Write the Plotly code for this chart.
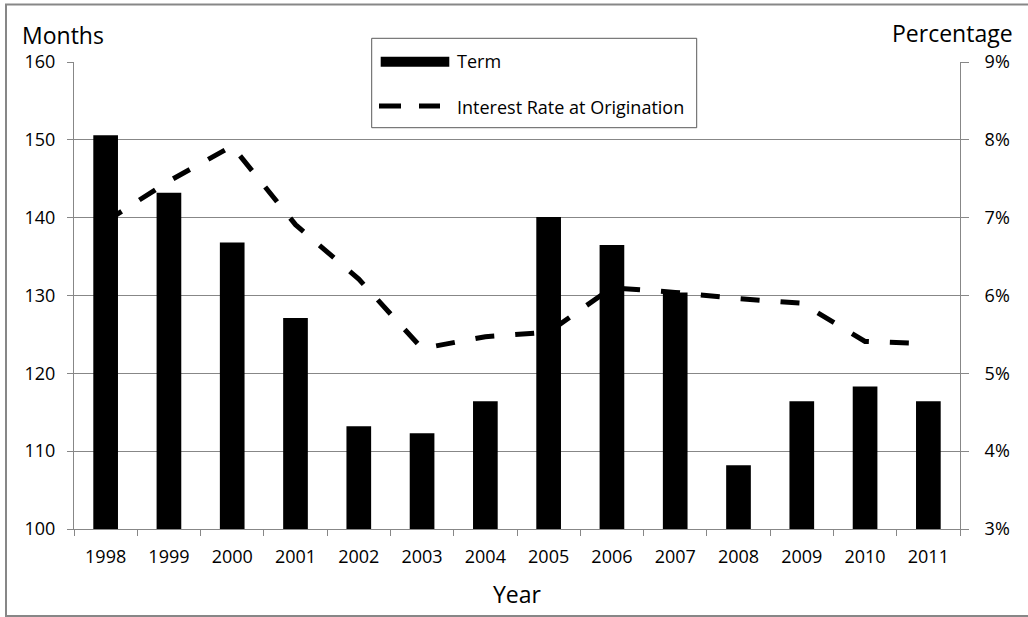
import plotly.graph_objects as go

# ---- data ----
years = ["1998", "1999", "2000", "2001", "2002", "2003", "2004",
         "2005", "2006", "2007", "2008", "2009", "2010", "2011"]
term_months = [150.6, 143.2, 136.8, 127.1, 113.2, 112.3, 116.4,
               140.1, 136.5, 130.4, 108.2, 116.4, 118.3, 116.4]
rate_pct = [6.95, 7.47, 7.92, 6.91, 6.21, 5.32, 5.47,
            5.53, 6.10, 6.04, 5.96, 5.90, 5.41, 5.38]
month_ticks = [100, 110, 120, 130, 140, 150, 160]
pct_ticks = [3, 4, 5, 6, 7, 8, 9]

# ---- geometry ----
W, H = 1028, 617
ML, MR, MT, MB = 74, 68, 62, 88
PW, PH = W - ML - MR, H - MT - MB


def fx(px):
    return (px - ML) / PW


def fy(py):
    return (H - MB - py) / PH


GRID = "#878787"
FONT = "Open Sans"

fig = go.Figure()

fig.add_trace(go.Bar(
    x=years, y=term_months, name="Term",
    marker=dict(color="black", line=dict(width=0)),
    yaxis="y", showlegend=False,
))

fig.add_trace(go.Scatter(
    x=years, y=[v / 100 for v in rate_pct], name="Interest Rate at Origination",
    mode="lines", line=dict(color="black", width=5, dash="19px,21px"),
    yaxis="y2", showlegend=False,
))

shapes = [
    # outer chart frame
    dict(type="rect", xref="paper", yref="paper",
         x0=fx(6), x1=fx(1040), y0=fy(616), y1=fy(4.5),
         line=dict(color=GRID, width=2), fillcolor="rgba(0,0,0,0)", layer="above"),
    # legend box
    dict(type="rect", xref="paper", yref="paper",
         x0=fx(371.7), x1=fx(696.7), y0=fy(127.7), y1=fy(38.3),
         line=dict(color="#5a5a5a", width=1), fillcolor="white", layer="above"),
    # legend swatch: bar
    dict(type="rect", xref="paper", yref="paper",
         x0=fx(380.7), x1=fx(449.3), y0=fy(66.7), y1=fy(56.7),
         line=dict(width=0), fillcolor="black", layer="above"),
    # legend swatch: dashed line
    dict(type="line", xref="paper", yref="paper",
         x0=fx(379), x1=fx(440), y0=fy(106), y1=fy(106),
         line=dict(color="black", width=5, dash="22px,18px"), layer="above"),
]

annotations = [
    dict(text="Months", xref="paper", yref="paper", x=fx(20), y=fy(34.5),
         xanchor="left", yanchor="middle", showarrow=False,
         font=dict(family=FONT, size=23, color="black")),
    dict(text="Percentage", xref="paper", yref="paper", x=fx(1015), y=fy(33.5),
         xanchor="right", yanchor="middle", showarrow=False,
         font=dict(family=FONT, size=23, color="black")),
    dict(text="Term", xref="paper", yref="paper", x=fx(455), y=fy(61),
         xanchor="left", yanchor="middle", showarrow=False,
         font=dict(family=FONT, size=18, color="black")),
    dict(text="Interest Rate at Origination", xref="paper", yref="paper",
         x=fx(455), y=fy(106.5), xanchor="left", yanchor="middle", showarrow=False,
         font=dict(family=FONT, size=18, color="black")),
]

fig.update_layout(
    width=W, height=H,
    margin=dict(l=ML, r=MR, t=MT, b=MB, pad=0),
    paper_bgcolor="white", plot_bgcolor="white",
    font=dict(family=FONT, size=18, color="black"),
    bargap=0.61,
    xaxis=dict(
        type="category", categoryorder="array", categoryarray=years,
        showline=True, linecolor=GRID, linewidth=1,
        ticks="outside", tickson="boundaries", ticklen=6, tickcolor=GRID,
        showgrid=False, ticklabelstandoff=11,
        title=dict(text="Year", font=dict(family=FONT, size=23, color="black"),
                   standoff=20),
    ),
    yaxis=dict(
        range=[100, 160], tickvals=month_ticks,
        showline=True, linecolor=GRID, linewidth=1,
        showgrid=True, gridcolor=GRID, gridwidth=1,
        ticks="outside", ticklen=6, tickcolor=GRID,
        ticklabelstandoff=8, zeroline=False,
    ),
    yaxis2=dict(
        overlaying="y", side="right", range=[0.03, 0.09],
        tickvals=[p / 100 for p in pct_ticks],
        ticktext=[f"{p}%" for p in pct_ticks],
        showline=True, linecolor=GRID, linewidth=1,
        showgrid=False, zeroline=False,
        ticks="outside", ticklen=8, tickcolor=GRID,
        ticklabelstandoff=12,
    ),
    shapes=shapes,
    annotations=annotations,
)

fig.write_html("out.html")
